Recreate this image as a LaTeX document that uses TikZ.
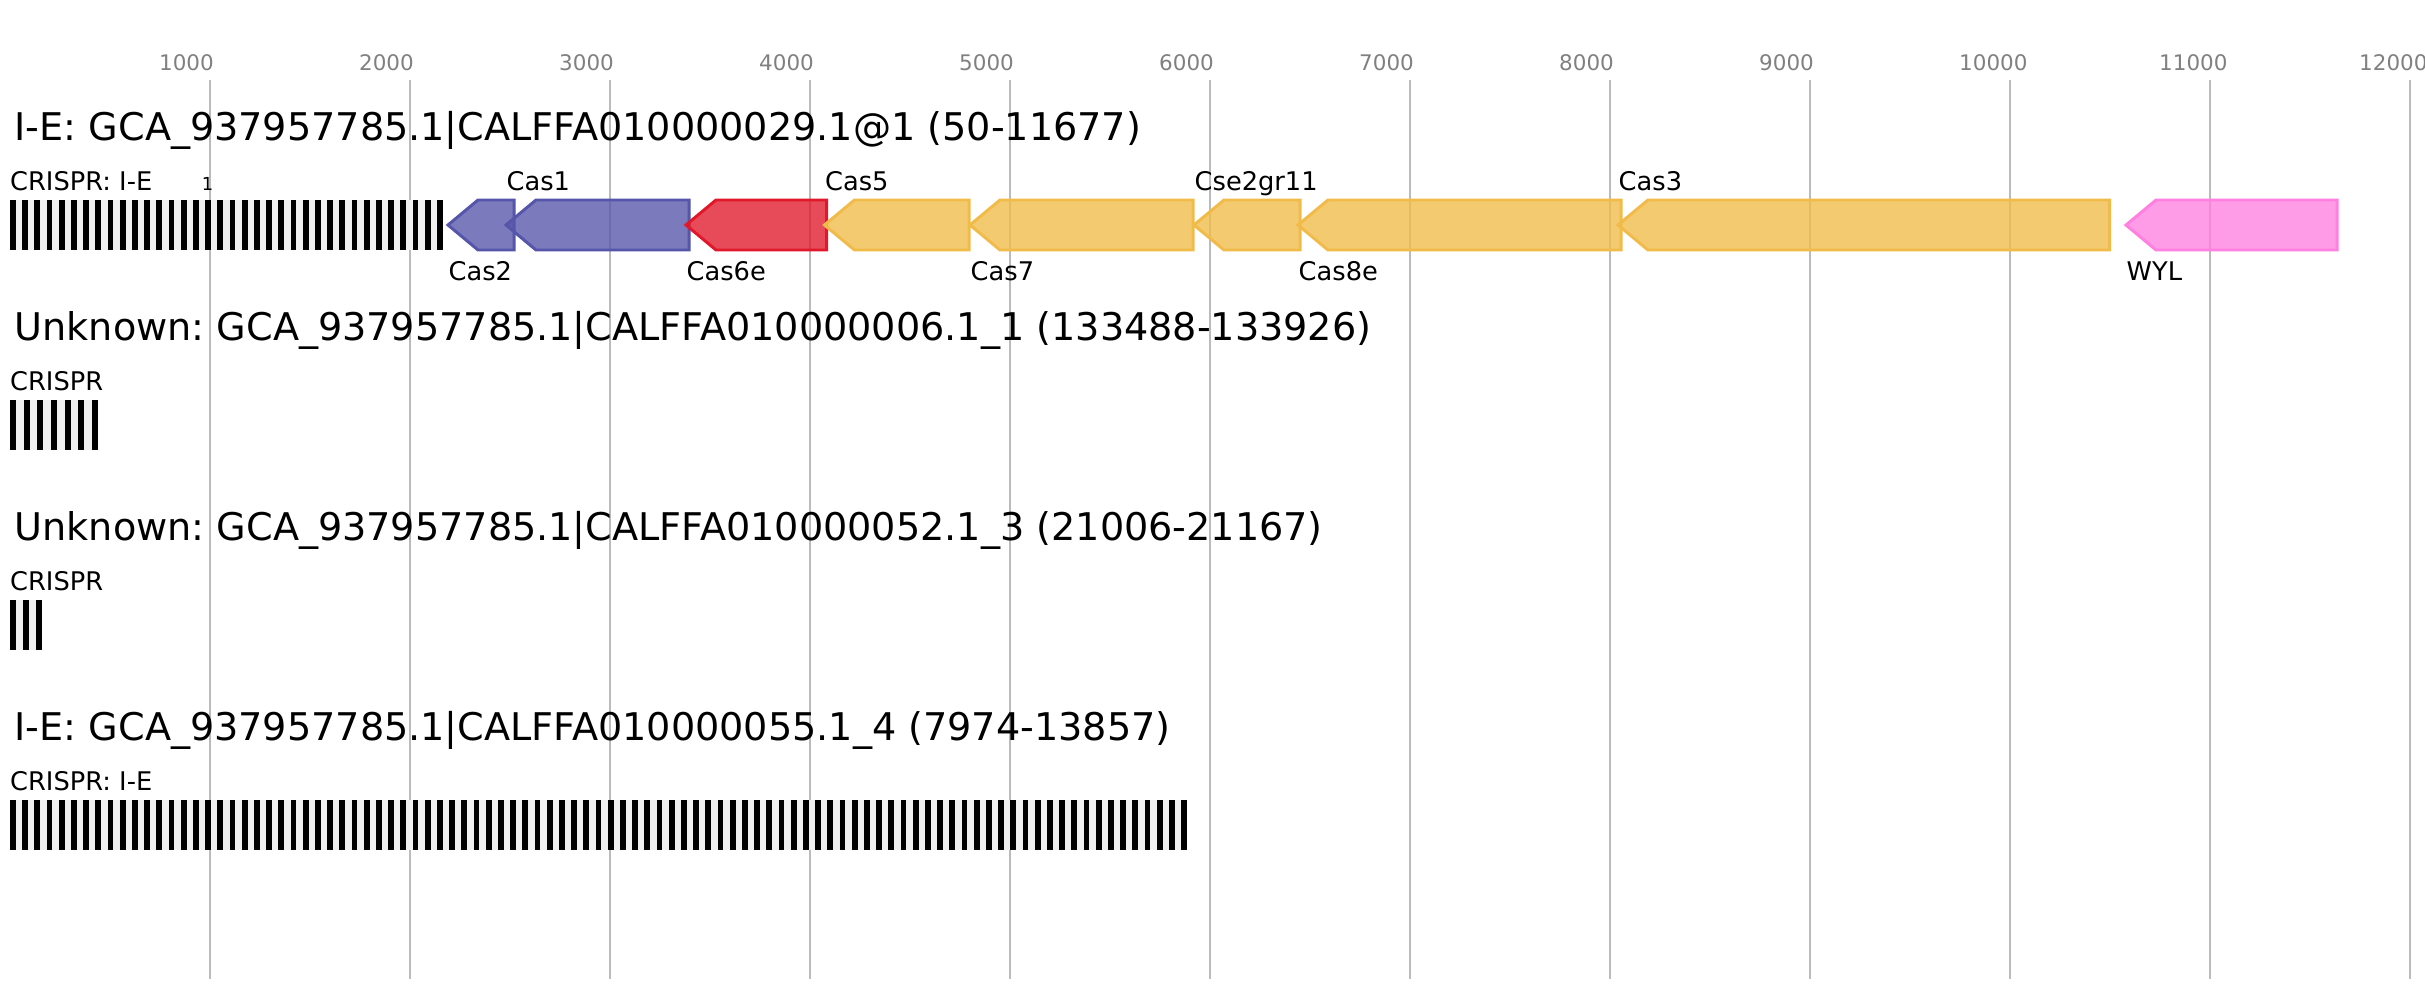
\documentclass[tikz,border=0pt]{standalone}
\usepackage{fontspec}
\setmainfont{DejaVu Sans}
\frenchspacing
\definecolor{casblue}{RGB}{85,85,170}
\definecolor{casred}{RGB}{224,24,42}
\definecolor{casyel}{RGB}{240,187,72}
\definecolor{caspink}{RGB}{255,128,224}
\definecolor{gridc}{RGB}{187,187,187}
\definecolor{tickc}{RGB}{128,128,128}
\definecolor{spacerc}{RGB}{240,240,240}

\begin{document}
\begin{tikzpicture}[x=0.01cm,y=-0.01cm,
    grid/.style={draw=gridc,line width=0.57pt},
    gene/.style={draw=#1,fill=#1,fill opacity=0.78,line width=0.85pt},
    ttl/.style={anchor=base west,inner sep=0,font=\fontsize{10.85}{12}\selectfont},
    lbl/.style={anchor=base west,inner sep=0,font=\fontsize{7.3}{9}\selectfont},
    tick/.style={anchor=base west,inner sep=0,text=tickc,font=\fontsize{6.1}{7}\selectfont}]
  \useasboundingbox (0,0) rectangle (2425,1000);

  % axis
  \foreach \k in {1,...,12}
  { \pgfmathtruncatemacro\v{\k*1000}
    \draw[grid] (9.5+200*\k,80) -- (9.5+200*\k,979);
    \node[tick] (tick\k) at (200*\k-41.5,70) {\v}; }

  % titles
  \foreach \r/\t/\c in {0/{I-E: GCA\_937957785.1|CALFFA010000029.1@1 (50-11677)}/{CRISPR: I-E},
      1/{Unknown: GCA\_937957785.1|CALFFA010000006.1\_1 (133488-133926)}/CRISPR,
      2/{Unknown: GCA\_937957785.1|CALFFA010000052.1\_3 (21006-21167)}/CRISPR,
      3/{I-E: GCA\_937957785.1|CALFFA010000055.1\_4 (7974-13857)}/{CRISPR: I-E}}
  { \node[ttl] (title\r) at (14,140+200*\r) {\t};
    \node[lbl] (crispr\r) at (9.5,190+200*\r) {\c}; }
  \node[anchor=base,inner sep=0,font=\fontsize{5.1}{6}\selectfont] (arrayno) at (207.5,190) {1};

  % arrays
  \foreach \r/\n/\p/\w/\e in {0/35/12.2/5.8/443, 1/6/13.67/6/98, 2/2/13/6/42, 3/96/12.2/5.8/1187}
  { \fill[spacerc] (10,200+200*\r) rectangle (\e,250+200*\r);
    \foreach \i in {0,...,\n}
    { \fill (10+\i*\p,200+200*\r) rectangle ++(\w,50); } }

  % genes
  \foreach \a/\b/\c/\n/\y in {448/514/casblue/Cas2/280, 506/689/casblue/Cas1/190,
      686/826.5/casred/Cas6e/280, 824.5/969/casyel/Cas5/190, 970/1193/casyel/Cas7/280,
      1194/1300/casyel/Cse2gr11/190, 1298/1621/casyel/Cas8e/280,
      1618/2109.5/casyel/Cas3/190, 2126/2337/caspink/WYL/280}
  { \draw[gene=\c] (\a,225) -- (\a+30,200) -- (\b,200) -- (\b,250) -- (\a+30,250) -- cycle;
    \node[lbl] (\n) at (\a,\y) {\n}; }
\end{tikzpicture}
\end{document}
